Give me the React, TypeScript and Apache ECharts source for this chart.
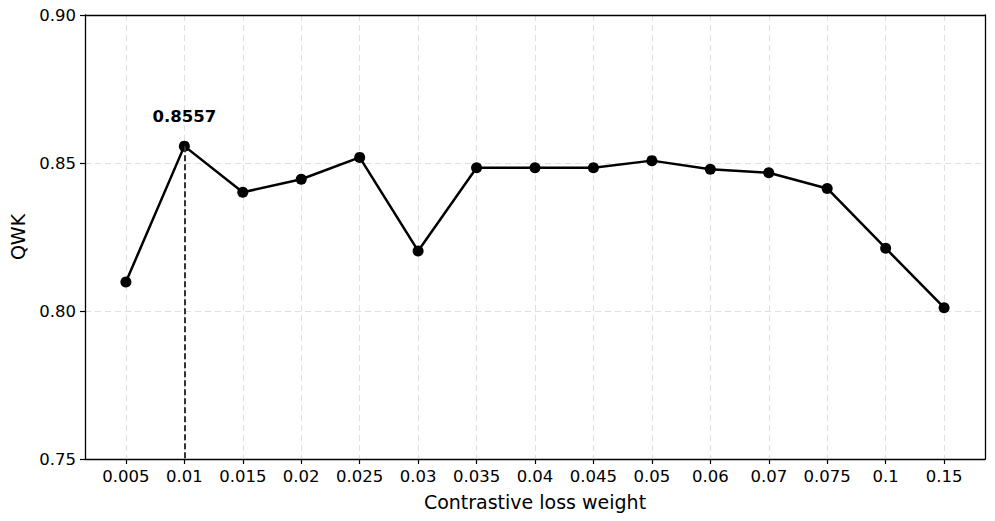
import React, { useEffect, useRef } from "react";
import * as echarts from "echarts";

const categories = ["0.005", "0.01", "0.015", "0.02", "0.025", "0.03", "0.035", "0.04", "0.045", "0.05", "0.06", "0.07", "0.075", "0.1", "0.15"];
const qwkValues = [0.8098, 0.8557, 0.8401, 0.8445, 0.8519, 0.8203, 0.8484, 0.8484, 0.8484, 0.8508, 0.8479, 0.8467, 0.8414, 0.8212, 0.8011];
const yTicks = [0.75, 0.8, 0.85, 0.9];
const bestIndex = 1;

const FONT = "DejaVu Sans";

export default function App() {
  const ref = useRef<HTMLDivElement>(null);
  useEffect(() => {
    if (!ref.current) return;
    const chart = echarts.init(ref.current, null, { renderer: "svg" });
    const idx = categories.map((_, i) => i);
    const data = qwkValues.map((v, i) => {
      const item: any = { value: [i, v] };
      if (i === bestIndex) {
        item.label = {
          show: true,
          position: "top",
          distance: 16,
          formatter: v.toFixed(4),
          fontFamily: FONT,
          fontWeight: "bold",
          fontSize: 16.5,
          color: "#000",
        };
      }
      return item;
    });
    const split = { show: true, lineStyle: { color: "#e0e0e0", type: [6, 4], width: 1.1 } };
    const frameLine = { show: true, onZero: false, lineStyle: { color: "#000", width: 1.3 } };
    chart.setOption({
      animation: false,
      backgroundColor: "#fff",
      grid: { left: 85, right: 10, top: 15, bottom: 62 },
      xAxis: [
        {
          type: "value",
          min: -0.7,
          max: 14.7,
          name: "Contrastive loss weight",
          nameLocation: "middle",
          nameGap: 33,
          nameTextStyle: { fontFamily: FONT, fontSize: 19, color: "#000" },
          axisLine: frameLine,
          axisTick: { show: true, length: 5, lineStyle: { color: "#000", width: 1.2 }, customValues: idx },
          axisLabel: {
            show: true,
            customValues: idx,
            formatter: (v: number) => categories[Math.round(v)] ?? "",
            fontFamily: FONT,
            fontSize: 16.5,
            color: "#000",
            margin: 9,
          },
          splitLine: split,
        },
        {
          type: "value",
          position: "top",
          min: -0.7,
          max: 14.7,
          axisLine: frameLine,
          axisTick: { show: false },
          axisLabel: { show: false },
          splitLine: { show: false },
        },
      ],
      yAxis: [
        {
          type: "value",
          min: 0.75,
          max: 0.9,
          interval: 0.05,
          name: "QWK",
          nameLocation: "middle",
          nameGap: 58,
          nameTextStyle: { fontFamily: FONT, fontSize: 19, color: "#000" },
          axisLine: frameLine,
          axisTick: { show: true, length: 5, lineStyle: { color: "#000", width: 1.2 } },
          axisLabel: {
            formatter: (v: number) => v.toFixed(2),
            fontFamily: FONT,
            fontSize: 16.5,
            color: "#000",
            margin: 9,
          },
          splitLine: split,
        },
        {
          type: "value",
          position: "right",
          min: 0.75,
          max: 0.9,
          interval: 0.05,
          axisLine: frameLine,
          axisTick: { show: false },
          axisLabel: { show: false },
          splitLine: { show: false },
        },
      ],
      series: [
        {
          type: "line",
          data,
          symbol: "circle",
          symbolSize: 11,
          itemStyle: { color: "#000" },
          lineStyle: { color: "#000", width: 2.5 },
          markLine: {
            silent: true,
            symbol: "none",
            label: { show: false },
            lineStyle: { color: "#333", type: [6, 3], width: 2 },
            data: [
              [
                { coord: [bestIndex, qwkValues[bestIndex]] },
                { coord: [bestIndex, yTicks[0]] },
              ],
            ],
          },
          z: 3,
        },
      ],
    });
    return () => chart.dispose();
  }, []);
  return <div ref={ref} style={{ width: 995, height: 521, position: "absolute", left: 0, top: 0 }} />;
}
